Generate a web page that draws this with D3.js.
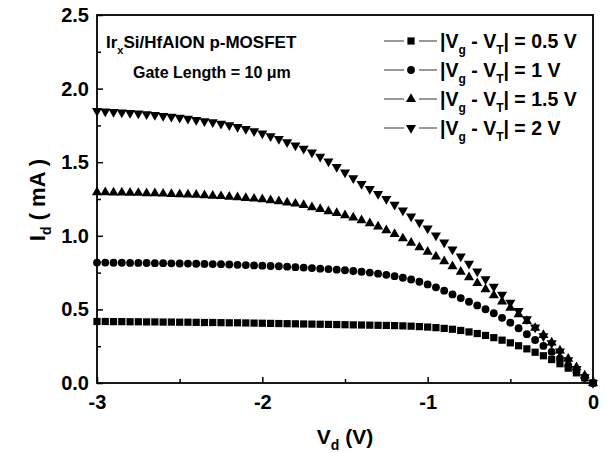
<!DOCTYPE html>
<html>
<head>
<meta charset="utf-8">
<script src="https://cdn.jsdelivr.net/npm/d3@7"></script>
<style>
  body { margin: 0; background: #fff; }
  svg { font-family: "Liberation Sans", Arial, sans-serif; font-weight: bold; }
</style>
</head>
<body>
<div id="chart"></div>
<script>
// drain voltage sweep, -3 V to 0 V in 0.05 V steps
const vd = d3.range(61).map(i => +(-3 + i * 0.05).toFixed(2));

// Id (mA) for each |Vg - VT|
const id05 = [0.418, 0.418, 0.417, 0.417, 0.416, 0.416, 0.415, 0.415, 0.414, 0.414,
  0.413, 0.413, 0.412, 0.411, 0.411, 0.410, 0.409, 0.409, 0.408, 0.407,
  0.406, 0.405, 0.404, 0.403, 0.402, 0.401, 0.400, 0.399, 0.398, 0.397,
  0.396, 0.395, 0.394, 0.393, 0.392, 0.391, 0.390, 0.388, 0.386, 0.383,
  0.380, 0.376, 0.371, 0.365, 0.357, 0.347, 0.336, 0.323, 0.308, 0.291,
  0.273, 0.253, 0.232, 0.209, 0.185, 0.159, 0.131, 0.101, 0.069, 0.035, 0.000];

const id1 = [0.818, 0.818, 0.817, 0.817, 0.816, 0.816, 0.815, 0.814, 0.814, 0.813,
  0.812, 0.811, 0.810, 0.809, 0.808, 0.807, 0.805, 0.803, 0.801, 0.799,
  0.797, 0.795, 0.793, 0.790, 0.787, 0.784, 0.781, 0.777, 0.774, 0.770,
  0.766, 0.761, 0.756, 0.750, 0.743, 0.735, 0.726, 0.715, 0.703, 0.688,
  0.670, 0.650, 0.627, 0.602, 0.577, 0.552, 0.527, 0.501, 0.474, 0.443,
  0.410, 0.372, 0.332, 0.292, 0.252, 0.211, 0.167, 0.119, 0.075, 0.035, 0.000];

const id15 = [1.296, 1.295, 1.294, 1.293, 1.292, 1.291, 1.289, 1.288, 1.286, 1.284,
  1.282, 1.280, 1.278, 1.275, 1.272, 1.269, 1.265, 1.261, 1.257, 1.252,
  1.247, 1.241, 1.234, 1.226, 1.218, 1.208, 1.194, 1.181, 1.167, 1.154,
  1.139, 1.123, 1.105, 1.085, 1.062, 1.037, 1.011, 0.982, 0.952, 0.922,
  0.891, 0.859, 0.826, 0.792, 0.756, 0.718, 0.678, 0.637, 0.595, 0.553,
  0.510, 0.466, 0.421, 0.374, 0.325, 0.274, 0.220, 0.164, 0.107, 0.051, 0.000];

const id2 = [1.848, 1.845, 1.842, 1.838, 1.835, 1.831, 1.826, 1.821, 1.815, 1.809,
  1.802, 1.795, 1.787, 1.779, 1.772, 1.762, 1.751, 1.739, 1.726, 1.711,
  1.695, 1.677, 1.658, 1.636, 1.614, 1.592, 1.567, 1.537, 1.505, 1.468,
  1.430, 1.391, 1.352, 1.318, 1.285, 1.250, 1.212, 1.172, 1.131, 1.091,
  1.050, 1.003, 0.955, 0.908, 0.860, 0.810, 0.758, 0.706, 0.654, 0.600,
  0.545, 0.490, 0.434, 0.377, 0.318, 0.270, 0.215, 0.155, 0.095, 0.040, 0.000];

const legendLabels = ['0.5 V', '1 V', '1.5 V', '2 V'];
const xTicks = [-3, -2, -1, 0];
const yTicks = [0, 0.5, 1.0, 1.5, 2.0, 2.5];

const series = [
  { name: legendLabels[0], values: id05, symbol: d3.symbolSquare, size: 52, rot: 0 },
  { name: legendLabels[1], values: id1, symbol: d3.symbolCircle, size: 48, rot: 0 },
  { name: legendLabels[2], values: id15, symbol: d3.symbolTriangle, size: 44, rot: 0 },
  { name: legendLabels[3], values: id2, symbol: d3.symbolTriangle, size: 44, rot: 180 },
];

const width = 605, height = 453;
const margin = { top: 15, right: 12, bottom: 70, left: 97 };

const svg = d3.select('#chart').append('svg')
  .attr('width', width)
  .attr('height', height);

const x = d3.scaleLinear().domain([-3, 0]).range([margin.left, width - margin.right]);
const y = d3.scaleLinear().domain([0, 2.5]).range([height - margin.bottom, margin.top]);

// minor ticks (inward)
svg.append('g').attr('transform', `translate(0, ${y(0)})`)
  .call(d3.axisTop(x).tickValues([-2.5, -1.5, -0.5]).tickSize(4).tickFormat(''))
  .select('.domain').remove();
svg.append('g').attr('transform', `translate(0, ${y(0)})`)
  .call(d3.axisTop(x).tickValues(xTicks).tickSize(6).tickFormat(''))
  .select('.domain').remove();
svg.append('g').attr('transform', `translate(0, ${y(0)})`)
  .call(d3.axisBottom(x).tickValues(xTicks).tickSize(0).tickPadding(12).tickFormat(d => String(d)))
  .call(g => g.select('.domain').remove())
  .selectAll('text')
  .style('font-size', '20px').style('font-weight', 'bold').attr('fill', '#000');

svg.append('g').attr('transform', `translate(${x(-3)}, 0)`)
  .call(d3.axisRight(y).tickValues([0.25, 0.75, 1.25, 1.75, 2.25]).tickSize(4).tickFormat(''))
  .select('.domain').remove();
svg.append('g').attr('transform', `translate(${x(-3)}, 0)`)
  .call(d3.axisRight(y).tickValues(yTicks).tickSize(6).tickFormat(''))
  .select('.domain').remove();
svg.append('g').attr('transform', `translate(${x(-3)}, 0)`)
  .call(d3.axisLeft(y).tickValues(yTicks).tickSize(0).tickPadding(8).tickFormat(d3.format('.1f')))
  .call(g => g.select('.domain').remove())
  .selectAll('text')
  .style('font-size', '20px').style('font-weight', 'bold').attr('fill', '#000');

svg.selectAll('.tick line').attr('stroke', '#000').attr('stroke-width', 1.5);

// frame
svg.append('rect')
  .attr('x', x(-3)).attr('y', y(2.5))
  .attr('width', x(0) - x(-3)).attr('height', y(0) - y(2.5))
  .attr('fill', 'none').attr('stroke', '#000').attr('stroke-width', 1.8);

// data points
series.forEach(s => {
  const sym = d3.symbol().type(s.symbol).size(s.size);
  svg.append('g').selectAll('path')
    .data(vd.map((v, i) => [v, s.values[i]]))
    .join('path')
    .attr('d', sym)
    .attr('transform', d => `translate(${x(d[0])}, ${y(d[1])}) rotate(${s.rot})`)
    .attr('fill', '#000');
});

// axis titles
const xt = svg.append('text')
  .attr('x', 345).attr('y', 444)
  .attr('text-anchor', 'middle')
  .style('font-size', '21px');
xt.append('tspan').text('V');
xt.append('tspan').attr('dy', 6).style('font-size', '14px').text('d');
xt.append('tspan').attr('dy', -6).text(' (V)');

const yt = svg.append('text')
  .attr('transform', 'translate(45, 200) rotate(-90)')
  .attr('text-anchor', 'middle')
  .style('font-size', '22px');
yt.append('tspan').text('I');
yt.append('tspan').attr('dy', 6).style('font-size', '14px').text('d');
yt.append('tspan').attr('dy', -6).text(' ( mA )');

// device annotation
const t1 = svg.append('text').attr('x', 106).attr('y', 48).style('font-size', '17px');
t1.append('tspan').text('Ir');
t1.append('tspan').attr('dy', 6).style('font-size', '11px').text('x');
t1.append('tspan').attr('dy', -6).text('Si/HfAlON p-MOSFET');
svg.append('text').attr('x', 133).attr('y', 78).style('font-size', '16px')
  .text('Gate Length = 10 \u03BCm');

// legend
const legend = svg.append('g');
series.forEach((s, i) => {
  const ly = 41 + i * 29;
  const row = legend.append('g');
  row.append('line').attr('x1', 384).attr('x2', 404).attr('y1', ly).attr('y2', ly)
    .attr('stroke', '#333').attr('stroke-width', 1);
  row.append('line').attr('x1', 419).attr('x2', 437).attr('y1', ly).attr('y2', ly)
    .attr('stroke', '#333').attr('stroke-width', 1);
  row.append('path')
    .attr('d', d3.symbol().type(s.symbol).size(s.size)())
    .attr('transform', `translate(411, ${ly}) rotate(${s.rot})`)
    .attr('fill', '#000');
  const t = row.append('text').attr('x', 440).attr('y', ly + 7).style('font-size', '19.5px');
  t.append('tspan').text('|V');
  t.append('tspan').attr('dy', 6).style('font-size', '12px').text('g');
  t.append('tspan').attr('dy', -6).text(' - V');
  t.append('tspan').attr('dy', 6).style('font-size', '12px').text('T');
  t.append('tspan').attr('dy', -6).text('| = ' + s.name);
});
</script>
</body>
</html>
